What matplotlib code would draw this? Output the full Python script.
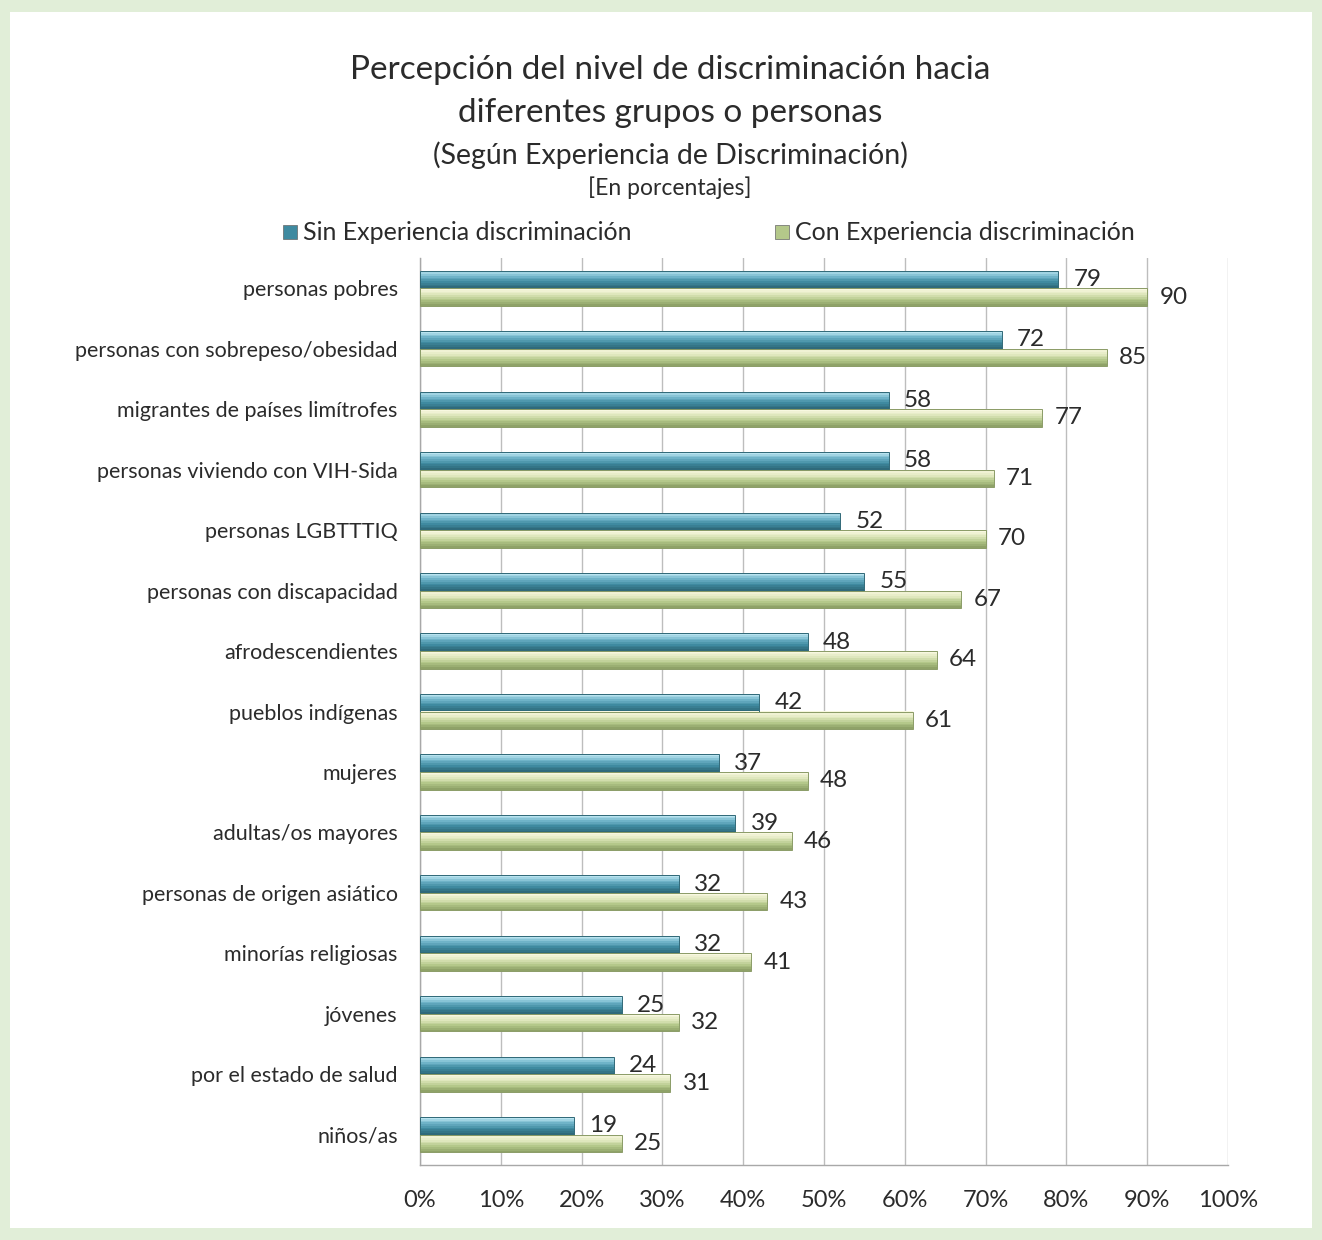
import matplotlib.pyplot as plt
import numpy as np
from matplotlib.colors import LinearSegmentedColormap
from matplotlib.patches import Rectangle

plt.rcParams["font.family"] = ["Lato", "DejaVu Sans"]

categories = [
    "personas pobres",
    "personas con sobrepeso/obesidad",
    "migrantes de países limítrofes",
    "personas viviendo con VIH-Sida",
    "personas LGBTTTIQ",
    "personas con discapacidad",
    "afrodescendientes",
    "pueblos indígenas",
    "mujeres",
    "adultas/os mayores",
    "personas de origen asiático",
    "minorías religiosas",
    "jóvenes",
    "por el estado de salud",
    "niños/as",
]
sin_exp = [79, 72, 58, 58, 52, 55, 48, 42, 37, 39, 32, 32, 25, 24, 19]
con_exp = [90, 85, 77, 71, 70, 67, 64, 61, 48, 46, 43, 41, 32, 31, 25]
series_names = ["Sin Experiencia discriminación", "Con Experiencia discriminación"]
x_ticks = list(range(0, 101, 10))

BLUE = "#3f8aa0"
GREEN = "#b4c88a"
TEXT = "#2b2b2b"
blue_grad = LinearSegmentedColormap.from_list(
    "b", ["#b9e4f0", "#6fb3c8", "#3f8aa0", "#2f6a7b"])
green_grad = LinearSegmentedColormap.from_list(
    "g", ["#f8f8e0", "#dfe7bd", "#b4c88a", "#8fa268"])

fig = plt.figure(figsize=(13.22, 12.40), dpi=100)
fig.patch.set_facecolor("#e1eed8")
fig.add_artist(Rectangle((10 / 1322, 12 / 1240), 1 - 20 / 1322, 1 - 24 / 1240,
                         transform=fig.transFigure, facecolor="white",
                         edgecolor="none", zorder=-1))

ax = fig.add_axes([420 / 1322, 1 - 1165 / 1240, 808 / 1322, 907 / 1240])
ax.set_facecolor("white")

y = np.arange(len(categories))
h = 0.29
n_strips = 10


def shaded_bars(centers, values, cmap, edge):
    top = centers - h / 2
    for i in range(n_strips):
        ax.barh(top + (i + 0.5) * h / n_strips, values, height=h / n_strips * 1.05,
                color=cmap(i / (n_strips - 1)), linewidth=0, zorder=3)
    ax.barh(centers, values, height=h, facecolor="none", edgecolor=edge,
            linewidth=0.7, zorder=4)


shaded_bars(y - h / 2, sin_exp, blue_grad, "#2f6877")
shaded_bars(y + h / 2, con_exp, green_grad, "#8a9b66")

for yi, v in zip(y, sin_exp):
    ax.text(v + 1.9, yi - h / 2, f"{v}", va="center", ha="left",
            fontsize=17.5, color=TEXT, zorder=5)
for yi, v in zip(y, con_exp):
    ax.text(v + 1.5, yi + h / 2, f"{v}", va="center", ha="left",
            fontsize=17.5, color=TEXT, zorder=5)

ax.set_xlim(0, 100)
ax.set_ylim(len(categories) - 0.5, -0.5)
ax.set_xticks(x_ticks)
ax.set_xticklabels([f"{t}%" for t in x_ticks], fontsize=17, color=TEXT)
ax.set_yticks(y)
ax.set_yticklabels(categories, fontsize=15.5, color=TEXT)
ax.tick_params(axis="x", length=0, pad=18)
ax.tick_params(axis="y", length=0, pad=16)
ax.xaxis.grid(True, color="#bdbdbd", linewidth=1.0, zorder=0)
ax.set_axisbelow(True)
for side in ["top", "right"]:
    ax.spines[side].set_visible(False)
for side in ["left", "bottom"]:
    ax.spines[side].set_color("#a8a8a8")
    ax.spines[side].set_linewidth(1.0)

fig.text(670 / 1322, 1 - 70 / 1240, "Percepción del nivel de discriminación hacia",
         ha="center", va="center", fontsize=24, color=TEXT)
fig.text(670 / 1322, 1 - 113 / 1240, "diferentes grupos o personas",
         ha="center", va="center", fontsize=24, color=TEXT)
fig.text(670 / 1322, 1 - 155 / 1240, "(Según Experiencia de Discriminación)",
         ha="center", va="center", fontsize=20.5, color=TEXT)
fig.text(670 / 1322, 1 - 188 / 1240, "[En porcentajes]",
         ha="center", va="center", fontsize=16.5, color=TEXT)

# legend
leg_y = 1 - 232 / 1240
for x0, color, name in [(283, BLUE, series_names[0]), (775, GREEN, series_names[1])]:
    fig.add_artist(Rectangle((x0 / 1322, leg_y - 7 / 1240), 14 / 1322, 14 / 1240,
                             transform=fig.transFigure, facecolor=color,
                             edgecolor="#666666", linewidth=0.5))
    fig.text((x0 + 20) / 1322, leg_y, name, ha="left", va="center",
             fontsize=18, color=TEXT)

fig.savefig("out.png", dpi=100)
